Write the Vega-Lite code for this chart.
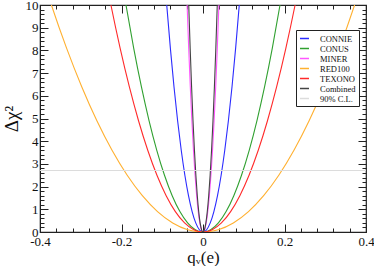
{
  "$schema": "https://vega.github.io/schema/vega-lite/v6.json",
  "width": 326,
  "height": 227,
  "autosize": {"type": "none"},
  "padding": {"left": 40, "top": 5, "right": 8, "bottom": 34},
  "background": "white",
  "config": {
    "view": {"stroke": "#222", "strokeWidth": 1.2},
    "font": "Liberation Serif",
    "axis": {"labelFont": "Liberation Serif", "titleFont": "Liberation Serif", "titleFontWeight": "normal", "labelColor": "#111", "titleColor": "#111", "domainColor": "#222", "tickColor": "#222", "grid": false, "labelFontSize": 13, "titleFontSize": 17}
  },
  "data": {"values": [
    {"s":"CONNIE","q":0,"d":0},
    {"s":"CONNIE","q":0.0089,"d":0.1},{"s":"CONNIE","q":-0.0089,"d":0.1},
    {"s":"CONNIE","q":0.0178,"d":0.4},{"s":"CONNIE","q":-0.0178,"d":0.4},
    {"s":"CONNIE","q":0.0267,"d":0.9},{"s":"CONNIE","q":-0.0267,"d":0.9},
    {"s":"CONNIE","q":0.0356,"d":1.6},{"s":"CONNIE","q":-0.0356,"d":1.6},
    {"s":"CONNIE","q":0.0445,"d":2.5},{"s":"CONNIE","q":-0.0445,"d":2.5},
    {"s":"CONNIE","q":0.0534,"d":3.6},{"s":"CONNIE","q":-0.0534,"d":3.6},
    {"s":"CONNIE","q":0.0623,"d":4.9},{"s":"CONNIE","q":-0.0623,"d":4.9},
    {"s":"CONNIE","q":0.0712,"d":6.4},{"s":"CONNIE","q":-0.0712,"d":6.4},
    {"s":"CONNIE","q":0.0801,"d":8.1},{"s":"CONNIE","q":-0.0801,"d":8.1},
    {"s":"CONNIE","q":0.089,"d":10},{"s":"CONNIE","q":-0.089,"d":10},
    {"s":"CONNIE","q":0.0935,"d":11.03},{"s":"CONNIE","q":-0.0935,"d":11.03},
    {"s":"CONUS","q":0,"d":0},
    {"s":"CONUS","q":0.0189,"d":0.1},{"s":"CONUS","q":-0.0189,"d":0.1},
    {"s":"CONUS","q":0.0378,"d":0.4},{"s":"CONUS","q":-0.0378,"d":0.4},
    {"s":"CONUS","q":0.0567,"d":0.9},{"s":"CONUS","q":-0.0567,"d":0.9},
    {"s":"CONUS","q":0.0756,"d":1.6},{"s":"CONUS","q":-0.0756,"d":1.6},
    {"s":"CONUS","q":0.0945,"d":2.5},{"s":"CONUS","q":-0.0945,"d":2.5},
    {"s":"CONUS","q":0.1134,"d":3.6},{"s":"CONUS","q":-0.1134,"d":3.6},
    {"s":"CONUS","q":0.1323,"d":4.9},{"s":"CONUS","q":-0.1323,"d":4.9},
    {"s":"CONUS","q":0.1512,"d":6.4},{"s":"CONUS","q":-0.1512,"d":6.4},
    {"s":"CONUS","q":0.1701,"d":8.1},{"s":"CONUS","q":-0.1701,"d":8.1},
    {"s":"CONUS","q":0.189,"d":10},{"s":"CONUS","q":-0.189,"d":10},
    {"s":"CONUS","q":0.1985,"d":11.03},{"s":"CONUS","q":-0.1985,"d":11.03},
    {"s":"MINER","q":0,"d":0},
    {"s":"MINER","q":0.0039,"d":0.1},{"s":"MINER","q":-0.0039,"d":0.1},
    {"s":"MINER","q":0.0078,"d":0.4},{"s":"MINER","q":-0.0078,"d":0.4},
    {"s":"MINER","q":0.0117,"d":0.9},{"s":"MINER","q":-0.0117,"d":0.9},
    {"s":"MINER","q":0.0156,"d":1.6},{"s":"MINER","q":-0.0156,"d":1.6},
    {"s":"MINER","q":0.0195,"d":2.5},{"s":"MINER","q":-0.0195,"d":2.5},
    {"s":"MINER","q":0.0234,"d":3.6},{"s":"MINER","q":-0.0234,"d":3.6},
    {"s":"MINER","q":0.0273,"d":4.9},{"s":"MINER","q":-0.0273,"d":4.9},
    {"s":"MINER","q":0.0312,"d":6.4},{"s":"MINER","q":-0.0312,"d":6.4},
    {"s":"MINER","q":0.0351,"d":8.1},{"s":"MINER","q":-0.0351,"d":8.1},
    {"s":"MINER","q":0.039,"d":10},{"s":"MINER","q":-0.039,"d":10},
    {"s":"MINER","q":0.041,"d":11.03},{"s":"MINER","q":-0.041,"d":11.03},
    {"s":"RED100","q":0,"d":0},
    {"s":"RED100","q":0.0372,"d":0.1},{"s":"RED100","q":-0.0372,"d":0.1},
    {"s":"RED100","q":0.0744,"d":0.4},{"s":"RED100","q":-0.0744,"d":0.4},
    {"s":"RED100","q":0.1116,"d":0.9},{"s":"RED100","q":-0.1116,"d":0.9},
    {"s":"RED100","q":0.1488,"d":1.6},{"s":"RED100","q":-0.1488,"d":1.6},
    {"s":"RED100","q":0.186,"d":2.5},{"s":"RED100","q":-0.186,"d":2.5},
    {"s":"RED100","q":0.2232,"d":3.6},{"s":"RED100","q":-0.2232,"d":3.6},
    {"s":"RED100","q":0.2604,"d":4.9},{"s":"RED100","q":-0.2604,"d":4.9},
    {"s":"RED100","q":0.2976,"d":6.4},{"s":"RED100","q":-0.2976,"d":6.4},
    {"s":"RED100","q":0.3348,"d":8.1},{"s":"RED100","q":-0.3348,"d":8.1},
    {"s":"RED100","q":0.372,"d":10},{"s":"RED100","q":-0.372,"d":10},
    {"s":"RED100","q":0.3906,"d":11.03},{"s":"RED100","q":-0.3906,"d":11.03},
    {"s":"TEXONO","q":0,"d":0},
    {"s":"TEXONO","q":0.0226,"d":0.1},{"s":"TEXONO","q":-0.0226,"d":0.1},
    {"s":"TEXONO","q":0.0452,"d":0.4},{"s":"TEXONO","q":-0.0452,"d":0.4},
    {"s":"TEXONO","q":0.0678,"d":0.9},{"s":"TEXONO","q":-0.0678,"d":0.9},
    {"s":"TEXONO","q":0.0904,"d":1.6},{"s":"TEXONO","q":-0.0904,"d":1.6},
    {"s":"TEXONO","q":0.113,"d":2.5},{"s":"TEXONO","q":-0.113,"d":2.5},
    {"s":"TEXONO","q":0.1356,"d":3.6},{"s":"TEXONO","q":-0.1356,"d":3.6},
    {"s":"TEXONO","q":0.1582,"d":4.9},{"s":"TEXONO","q":-0.1582,"d":4.9},
    {"s":"TEXONO","q":0.1808,"d":6.4},{"s":"TEXONO","q":-0.1808,"d":6.4},
    {"s":"TEXONO","q":0.2034,"d":8.1},{"s":"TEXONO","q":-0.2034,"d":8.1},
    {"s":"TEXONO","q":0.226,"d":10},{"s":"TEXONO","q":-0.226,"d":10},
    {"s":"TEXONO","q":0.2373,"d":11.03},{"s":"TEXONO","q":-0.2373,"d":11.03},
    {"s":"Combined","q":0,"d":0},
    {"s":"Combined","q":0.0035,"d":0.1},{"s":"Combined","q":-0.0035,"d":0.1},
    {"s":"Combined","q":0.007,"d":0.4},{"s":"Combined","q":-0.007,"d":0.4},
    {"s":"Combined","q":0.0105,"d":0.9},{"s":"Combined","q":-0.0105,"d":0.9},
    {"s":"Combined","q":0.014,"d":1.6},{"s":"Combined","q":-0.014,"d":1.6},
    {"s":"Combined","q":0.0175,"d":2.5},{"s":"Combined","q":-0.0175,"d":2.5},
    {"s":"Combined","q":0.021,"d":3.6},{"s":"Combined","q":-0.021,"d":3.6},
    {"s":"Combined","q":0.0245,"d":4.9},{"s":"Combined","q":-0.0245,"d":4.9},
    {"s":"Combined","q":0.028,"d":6.4},{"s":"Combined","q":-0.028,"d":6.4},
    {"s":"Combined","q":0.0315,"d":8.1},{"s":"Combined","q":-0.0315,"d":8.1},
    {"s":"Combined","q":0.035,"d":10},{"s":"Combined","q":-0.035,"d":10},
    {"s":"Combined","q":0.0368,"d":11.03},{"s":"Combined","q":-0.0368,"d":11.03},
    {"s":"90% C.L.","q":-0.4,"d":2.71},{"s":"90% C.L.","q":0.4,"d":2.71}
  ]},
  "resolve": {"axis": {"x": "independent", "y": "independent"}},
  "layer": [
    {
      "mark": {"type": "line", "clip": true, "strokeWidth": 1.1, "interpolate": "monotone"},
      "encoding": {
        "x": {"field": "q", "type": "quantitative",
          "scale": {"domain": [-0.4, 0.4], "nice": false, "zero": false},
          "axis": {"orient": "bottom", "title": null, "labels": false, "domain": false,
            "values": [-0.4,-0.36,-0.32,-0.28,-0.24,-0.2,-0.16,-0.12,-0.08,-0.04,0,0.04,0.08,0.12,0.16,0.2,0.24,0.28,0.32,0.36,0.4],
            "tickSize": {"condition": {"test": "abs(datum.value*5 - round(datum.value*5)) < 1e-6", "value": -8}, "value": -4}}},
        "y": {"field": "d", "type": "quantitative",
          "scale": {"domain": [0, 10], "nice": false, "zero": false},
          "axis": {"orient": "left", "title": null, "labels": false, "domain": false,
            "values": [0,0.2,0.4,0.6,0.8,1,1.2,1.4,1.6,1.8,2,2.2,2.4,2.6,2.8,3,3.2,3.4,3.6,3.8,4,4.2,4.4,4.6,4.8,5,5.2,5.4,5.6,5.8,6,6.2,6.4,6.6,6.8,7,7.2,7.4,7.6,7.8,8,8.2,8.4,8.6,8.8,9,9.2,9.4,9.6,9.8,10],
            "tickSize": {"condition": {"test": "abs(datum.value - round(datum.value)) < 1e-6", "value": -8}, "value": -4}}},
        "color": {"field": "s", "type": "nominal",
          "scale": {"domain": ["CONNIE","CONUS","MINER","RED100","TEXONO","Combined","90% C.L."],
                    "range": ["#2b2bff","#30a030","#ff55ff","#ffb030","#ff2a2a","#444444","#dcdcdc"]},
          "legend": {"title": null, "orient": "none", "legendX": 256, "legendY": 25,
            "symbolType": "stroke", "symbolSize": 81, "symbolStrokeWidth": 1.5,
            "labelFont": "Liberation Serif", "labelFontSize": 8.5, "labelColor": "#111",
            "labelOffset": 10, "rowPadding": -0.7, "padding": 3,
            "strokeColor": "#222", "fillColor": "white"}}
      }
    },
    {
      "mark": {"type": "point", "opacity": 0},
      "encoding": {
        "x": {"field": "q", "type": "quantitative",
          "scale": {"domain": [-0.4, 0.4], "nice": false, "zero": false},
          "axis": {"orient": "top", "title": null, "labels": false, "domain": false,
            "values": [-0.4,-0.36,-0.32,-0.28,-0.24,-0.2,-0.16,-0.12,-0.08,-0.04,0,0.04,0.08,0.12,0.16,0.2,0.24,0.28,0.32,0.36,0.4],
            "tickSize": {"condition": {"test": "abs(datum.value*5 - round(datum.value*5)) < 1e-6", "value": -8}, "value": -4}}},
        "y": {"field": "d", "type": "quantitative",
          "scale": {"domain": [0, 10], "nice": false, "zero": false},
          "axis": {"orient": "right", "title": null, "labels": false, "domain": false,
            "values": [0,0.2,0.4,0.6,0.8,1,1.2,1.4,1.6,1.8,2,2.2,2.4,2.6,2.8,3,3.2,3.4,3.6,3.8,4,4.2,4.4,4.6,4.8,5,5.2,5.4,5.6,5.8,6,6.2,6.4,6.6,6.8,7,7.2,7.4,7.6,7.8,8,8.2,8.4,8.6,8.8,9,9.2,9.4,9.6,9.8,10],
            "tickSize": {"condition": {"test": "abs(datum.value - round(datum.value)) < 1e-6", "value": -8}, "value": -4}}}
      }
    },
    {
      "mark": {"type": "point", "opacity": 0},
      "encoding": {
        "x": {"field": "q", "type": "quantitative",
          "scale": {"domain": [-0.4, 0.4], "nice": false, "zero": false},
          "axis": {"orient": "bottom", "title": "qᵥ(e)", "titlePadding": 1, "ticks": false,
            "values": [-0.4,-0.2,0,0.2,0.4],
            "labelExpr": "(datum.value < -1e-9 ? '-' : '') + format(abs(datum.value), '.1~f')",
            "labelPadding": 3, "labelFlush": false, "labelOverlap": false}},
        "y": {"field": "d", "type": "quantitative",
          "scale": {"domain": [0, 10], "nice": false, "zero": false},
          "axis": {"orient": "left", "title": "Δχ²", "titleFontSize": 19, "titlePadding": 4, "ticks": false,
            "values": [0,1,2,3,4,5,6,7,8,9,10],
            "labelPadding": 2, "labelFlush": false, "labelOverlap": false}}
      }
    }
  ]
}
